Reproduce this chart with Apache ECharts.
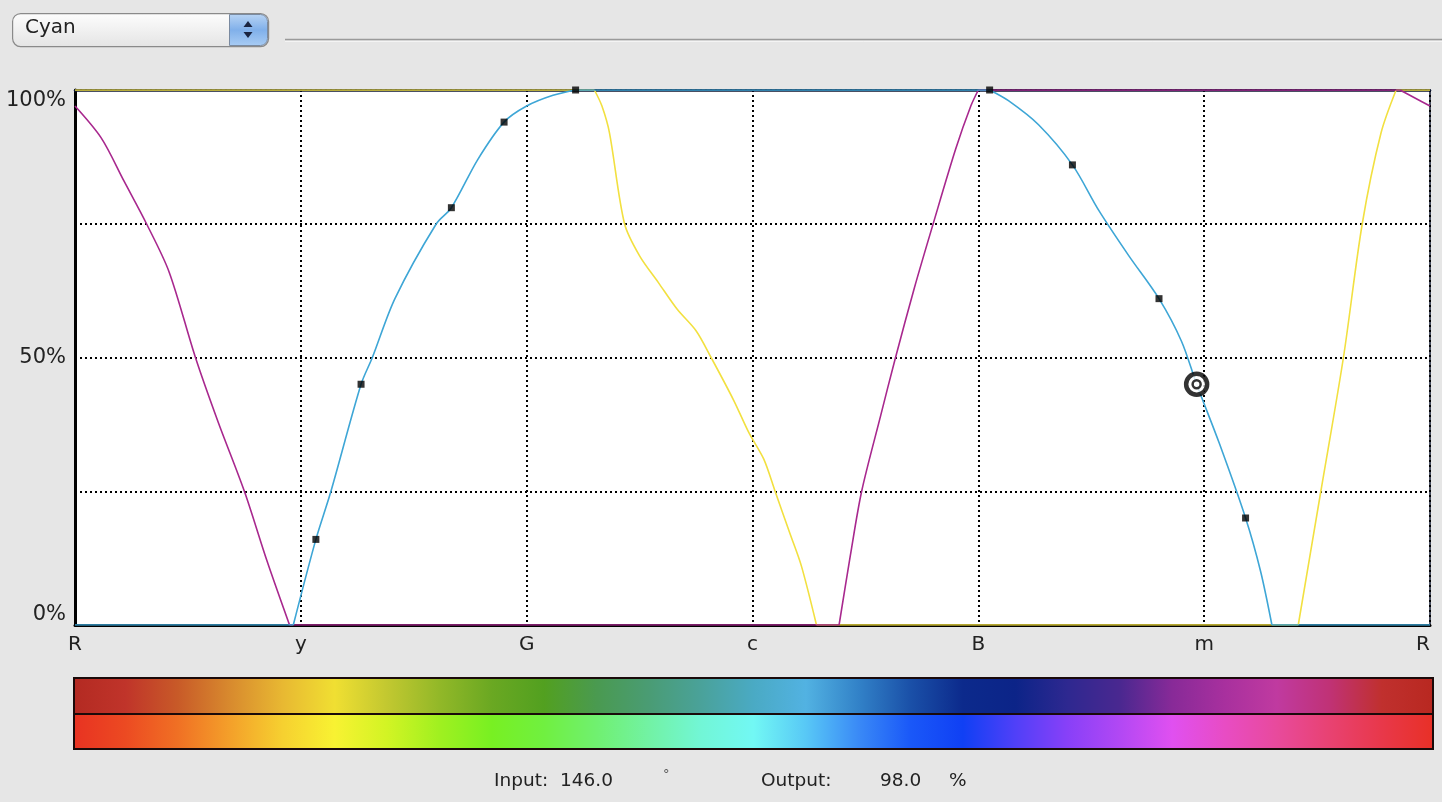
<!DOCTYPE html>
<html>
<head>
<meta charset="utf-8">
<script src="https://cdn.jsdelivr.net/npm/echarts@6/dist/echarts.min.js"></script>
<style>
html,body{margin:0;padding:0;background:#e6e6e6;}
#chart{width:1442px;height:802px;}
</style>
</head>
<body>
<div id="chart"></div>
<script>
// ---- data ----
const xTickLabels = ['R', 'y', 'G', 'c', 'B', 'm', 'R'];
const yTickLabels = ['0%', '', '50%', '', '100%'];

const magentaHue = [0, 7, 13, 19, 25, 32, 38, 45, 51, 57, 130, 203, 206, 209, 214, 218, 223, 228, 234, 238, 240, 300, 352, 356, 360];
const magentaVal = [97, 91, 83, 75, 66, 50, 38, 25, 12, 0, 0, 0, 13, 25, 39, 50, 63, 75, 89, 97, 100, 100, 100, 98.5, 97];

const yellowHue = [0, 138, 140, 142, 146, 150, 155, 160, 165, 169, 175, 179, 183, 186, 190, 193, 197, 260, 325, 331, 337, 342, 347, 351, 360];
const yellowVal = [100, 100, 97, 92, 75, 69, 64, 59, 55, 50, 42, 36, 31, 25, 17, 11, 0, 0, 0, 25, 50, 75, 92, 100, 100];

const cyanHue = [0, 58, 64, 68, 76, 79, 85, 96, 100, 107, 114, 120, 127, 133, 190, 240, 243, 248, 256, 265, 272, 280, 288, 294, 298, 304, 311, 315, 318, 340, 360];
const cyanVal = [0, 0, 16, 25, 45, 50, 61, 75, 78, 87, 94, 97, 99, 100, 100, 100, 100, 98, 93.5, 86, 77.5, 69, 61, 53, 45, 34, 20, 10, 0, 0, 0];

const pointHue = [64, 76, 100, 114, 133, 243, 265, 288, 311];
const pointVal = [16, 45, 78, 94, 100, 100, 86, 61, 20];

const targetHue = [298];
const targetVal = [45];

const selectedChannel = 'Cyan';
const inputText = ['Input:', '146.0', '°'];
const outputText = ['Output:', '98.0', '%'];

const outputBarColors = ['#b32a22', '#c0342a', '#c85a28', '#d88a2e', '#e8b832', '#f0df32', '#c2c830', '#92b828', '#6aa822', '#52a020', '#4a9a50', '#4a9c74', '#4aa29a', '#4aaac4', '#52b2e2', '#3282c8', '#1a50a8', '#0c2a8c', '#0c2488', '#2e2890', '#4a2890', '#882a98', '#a8309e', '#c03aa0', '#c03276', '#c0302e', '#b82820'];
const inputBarColors = ['#e83222', '#ec4a22', '#f07024', '#f4a02a', '#f6d030', '#f8f232', '#d2f424', '#a0f020', '#78f022', '#70f040', '#70f070', '#72f2a4', '#72f6d6', '#72f8f4', '#58c8f6', '#3a8af6', '#1a58f8', '#1040f4', '#5040f8', '#8840f8', '#b248f4', '#e050f0', '#e84cc4', '#e84a9c', '#e84272', '#e8384a', '#e83026'];

// ---- chart ----
const chart = echarts.init(document.getElementById('chart'));
const FONT = '"DejaVu Sans", "Liberation Sans", sans-serif';

function pairs(h, v) { return h.map((x, i) => [x, v[i]]); }
function stops(colors) { return colors.map((c, i) => ({ offset: i / (colors.length - 1), color: c })); }

// split a curve into flat runs (clamped at 0 / 100) and smooth ramps, so corners stay sharp
function curveSeries(h, v, color, z) {
  const pts = pairs(h, v);
  const isFlat = (i) => v[i] === v[i + 1] && (v[i] === 0 || v[i] === 100);
  const out = [];
  let start = 0;
  for (let i = 0; i < pts.length - 1; i++) {
    const last = i === pts.length - 2;
    if (last || isFlat(i) !== isFlat(i + 1)) {
      const flat = isFlat(i);
      out.push({
        type: 'line', data: pts.slice(start, i + 2), smooth: flat ? false : 0.3,
        symbol: 'none', lineStyle: { color: color, width: 1.6 }, clip: true, z: z,
        silent: true
      });
      start = i + 1;
    }
  }
  return out;
}

const gridDash = { color: '#000', width: 2, type: [2, 3] };

const option = {
  backgroundColor: '#e6e6e6',
  animation: false,
  grid: {
    left: 75, right: 12, top: 90, bottom: 177,
    show: true, backgroundColor: '#ffffff', borderColor: '#101830', borderWidth: 1.5
  },
  xAxis: [{
    type: 'value', min: 0, max: 360, interval: 60,
    axisLine: { show: true, onZero: false, lineStyle: { color: '#000', width: 3 } },
    axisTick: { show: false },
    splitLine: { show: true, lineStyle: gridDash },
    axisLabel: {
      margin: 10, color: '#222', fontSize: 20, fontFamily: FONT,
      formatter: (v) => xTickLabels[Math.round(v / 60)],
      alignMinLabel: 'center', alignMaxLabel: 'right'
    }
  }, {
    type: 'value', min: 0, max: 360, position: 'top',
    axisLine: { show: true, onZero: false, lineStyle: { color: '#0e1630', width: 2.5 } },
    axisTick: { show: false }, axisLabel: { show: false }, splitLine: { show: false }
  }],
  yAxis: {
    type: 'value', min: 0, max: 100, interval: 25,
    axisLine: { show: true, lineStyle: { color: '#000', width: 3 } },
    axisTick: { show: false },
    splitLine: { show: true, lineStyle: gridDash },
    axisLabel: {
      margin: 9, color: '#222', fontSize: 21, fontFamily: FONT,
      formatter: (v) => yTickLabels[Math.round(v / 25)],
      verticalAlignMinLabel: 'bottom', verticalAlignMaxLabel: 'top'
    }
  },
  series: [].concat(
    curveSeries(yellowHue, yellowVal, '#f2e040', 3),
    curveSeries(magentaHue, magentaVal, '#a8288e', 3),
    curveSeries(cyanHue, cyanVal, '#3ea6d6', 4),
    [
      {
        type: 'scatter', name: 'points', data: pairs(pointHue, pointVal),
        symbol: 'rect', symbolSize: 7, itemStyle: { color: '#000' }, z: 5, clip: false
      },
      {
        type: 'scatter', name: 'target', data: pairs(targetHue, targetVal),
        symbol: 'circle', symbolSize: 21,
        itemStyle: { color: '#fff', borderColor: '#000', borderWidth: 4.5 }, z: 6, clip: false
      },
      {
        type: 'scatter', name: 'targetInner', data: pairs(targetHue, targetVal),
        symbol: 'circle', symbolSize: 8,
        itemStyle: { color: '#fff', borderColor: '#000', borderWidth: 2.5 }, z: 7, clip: false
      }
    ]
  ),
  graphic: [
    // popup menu
    {
      type: 'rect', left: 12, top: 13,
      shape: { width: 256, height: 33, r: 8 },
      style: {
        fill: new echarts.graphic.LinearGradient(0, 0, 0, 1, [
          { offset: 0, color: '#fdfdfd' }, { offset: 1, color: '#e4e4e4' }
        ]),
        stroke: '#8a8a8a', lineWidth: 1.2
      }
    },
    {
      type: 'rect', left: 229, top: 14,
      shape: { width: 38, height: 31, r: [0, 7, 7, 0] },
      style: {
        fill: new echarts.graphic.LinearGradient(0, 0, 0, 1, [
          { offset: 0, color: '#b8d4f4' }, { offset: 0.5, color: '#80b0ea' }, { offset: 1, color: '#a8ccf4' }
        ]),
        stroke: '#7a8aa0', lineWidth: 1
      }
    },
    {
      type: 'polygon', shape: { points: [[248, 21], [243.5, 27], [252.5, 27]] },
      style: { fill: '#1a2440' }
    },
    {
      type: 'polygon', shape: { points: [[243.5, 32], [252.5, 32], [248, 38]] },
      style: { fill: '#1a2440' }
    },
    {
      type: 'text', left: 25, top: 18,
      style: { text: selectedChannel, fill: '#222', font: '20px ' + FONT }
    },
    {
      type: 'line', shape: { x1: 285, y1: 39.5, x2: 1442, y2: 39.5 },
      style: { stroke: '#9a9a9a', lineWidth: 1.5 }
    },
    {
      type: 'line', shape: { x1: 285, y1: 41.5, x2: 1442, y2: 41.5 },
      style: { stroke: '#f4f4f4', lineWidth: 1 }
    },
    // color bars
    {
      type: 'rect', left: 73, top: 677,
      shape: { width: 1359, height: 36 },
      style: {
        fill: new echarts.graphic.LinearGradient(0, 0, 1, 0, stops(outputBarColors)),
        stroke: '#1a0a0a', lineWidth: 2
      }
    },
    {
      type: 'rect', left: 73, top: 713,
      shape: { width: 1359, height: 35 },
      style: {
        fill: new echarts.graphic.LinearGradient(0, 0, 1, 0, stops(inputBarColors)),
        stroke: '#1a0a0a', lineWidth: 2
      }
    },
    // readouts
    { type: 'text', left: 494, top: 772, style: { text: inputText[0], fill: '#222', font: '18.5px ' + FONT } },
    { type: 'text', left: 560, top: 772, style: { text: inputText[1], fill: '#222', font: '18.5px ' + FONT } },
    { type: 'text', left: 663, top: 768, style: { text: inputText[2], fill: '#555', font: '13px ' + FONT } },
    { type: 'text', left: 761, top: 772, style: { text: outputText[0], fill: '#222', font: '18.5px ' + FONT } },
    { type: 'text', left: 880, top: 772, style: { text: outputText[1], fill: '#222', font: '18.5px ' + FONT } },
    { type: 'text', left: 949, top: 772, style: { text: outputText[2], fill: '#222', font: '18.5px ' + FONT } }
  ]
};
chart.setOption(option);
</script>
</body>
</html>
